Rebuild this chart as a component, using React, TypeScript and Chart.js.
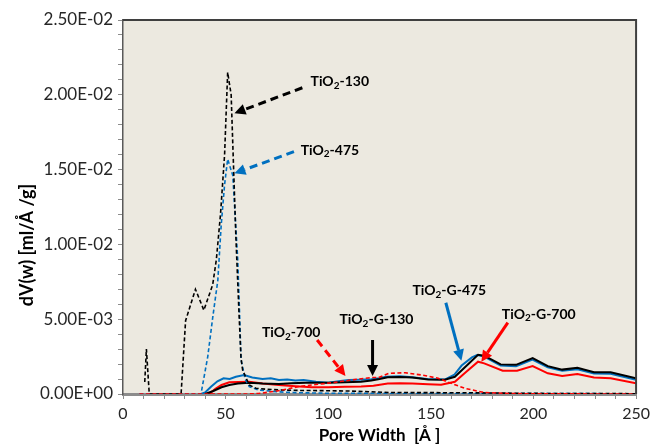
import React, { useEffect, useRef } from 'react';
import { Chart, registerables } from 'chart.js';
Chart.register(...registerables);

const FONT = 'Lato, "Open Sans", "DejaVu Sans", sans-serif';
const BG = '#ECE9E0';
const BLACK = '#000000';
const BLUE = '#0070C0';
const RED = '#FF0000';

// TiO2-130 (black dashed)
const t130X = [10.6, 11.4, 12.8, 28.3, 30.5, 35.3, 39.4, 43.7, 45.5, 47.5, 49.5, 51, 52.7, 55, 56.4, 57.5, 58.3, 61.5, 64.8, 70, 76, 85, 100, 110, 121, 130, 150, 170, 200, 250];
const t130Y = [0.0008, 0.0030, 0, 0, 0.0049, 0.0070, 0.0056, 0.0073, 0.0090, 0.0120, 0.0160, 0.0215, 0.0200, 0.0105, 0.0058, 0.0024, 0.0016, 0.0006, 0.00038, 0.00032, 0.00027, 0.00024, 0.00022, 0.0002, 0.00015, 0.0001, 0.00009, 0.00008, 0.00004, 0.00002];

// TiO2-475 (blue dashed)
const t475X = [8, 38, 41.3, 43.8, 46.2, 47.8, 49.5, 51, 53.5, 55.9, 56.7, 57.5, 59.5, 61.5, 66, 75, 84, 100, 150, 250];
const t475Y = [0, 0, 0.0025, 0.0052, 0.0076, 0.0112, 0.0140, 0.0157, 0.0146, 0.0090, 0.0058, 0.0023, 0.0010, 0.0005, 0.00027, 0.00015, 0.00009, 0.00005, 0.00003, 0.00002];

// TiO2-700 (red dashed)
const t700X = [8, 60, 66, 75, 85.8, 95, 102, 106.6, 115, 121, 124.5, 129.4, 137.5, 145.5, 153.6, 160, 166.5, 176, 189, 200, 250];
const t700Y = [0, 0, 0.00003, 0.0002, 0.0005, 0.00065, 0.00075, 0.00085, 0.001, 0.0011, 0.0011, 0.00138, 0.00142, 0.00127, 0.00105, 0.00071, 0.00038, 0.0001, 0.00003, 0.00001, 0];

// TiO2-G-130 (black solid)
const g130X = [40, 44, 48, 51.8, 56, 61.5, 68, 76, 82, 89, 100, 108, 116, 121, 125, 129, 135, 141, 148.7, 156.8, 161.7, 173, 176, 184, 191.5, 199.6, 207, 214, 221.4, 229.5, 237.6, 250];
const g130Y = [0, 0.0002, 0.00045, 0.0006, 0.0007, 0.00076, 0.0007, 0.00067, 0.00072, 0.00076, 0.00076, 0.00078, 0.00082, 0.0009, 0.001, 0.00112, 0.00113, 0.0011, 0.00097, 0.00095, 0.00115, 0.00262, 0.00256, 0.00198, 0.00195, 0.0024, 0.00186, 0.00163, 0.00175, 0.00145, 0.00145, 0.00105];

// TiO2-G-475 (blue solid)
const g475X = [38, 40, 43, 46, 49, 52, 55, 59, 63, 68, 72, 76, 80, 84, 88, 94, 100, 105, 110, 115, 121, 125, 128, 135, 141, 148, 157, 161.5, 165, 170, 172.5, 176, 184, 191.5, 199.5, 207, 214, 221.4, 229.5, 237.6, 250];
const g475Y = [0, 0.0001, 0.0005, 0.00085, 0.00105, 0.001, 0.00115, 0.00127, 0.0011, 0.001, 0.00105, 0.00094, 0.00097, 0.0009, 0.00093, 0.00082, 0.00076, 0.00085, 0.00094, 0.00095, 0.00098, 0.00105, 0.00116, 0.00118, 0.00112, 0.001, 0.00097, 0.0013, 0.0019, 0.00245, 0.0026, 0.0025, 0.0019, 0.00185, 0.0023, 0.00178, 0.00155, 0.00166, 0.00137, 0.00136, 0.00095];

// TiO2-G-700 (red solid)
const g700X = [42, 45, 48, 51.8, 56, 61.5, 68, 76, 84, 92, 100, 108, 116, 122, 129, 135, 141, 148.7, 155, 161.7, 167, 173, 176, 185, 192, 199.6, 207, 214, 221.4, 229.5, 237.6, 250];
const g700Y = [0, 0.00035, 0.0006, 0.00078, 0.0008, 0.00082, 0.0007, 0.0006, 0.00052, 0.00045, 0.00045, 0.00048, 0.0005, 0.00055, 0.0007, 0.00072, 0.0007, 0.00066, 0.00062, 0.00082, 0.00145, 0.00216, 0.00205, 0.00156, 0.00156, 0.00187, 0.00138, 0.0012, 0.00134, 0.0011, 0.00105, 0.00071];

// Annotations (in data coordinates)
const annSuffix = ['-130', '-475', '-700', '-G-130', '-G-475', '-G-700'];
const annTextX = [91.4, 86.6, 67.7, 105.5, 141, 184.6];
const annTextY = [0.02088, 0.01631, 0.0041, 0.00499, 0.00689, 0.00533];
const arrFromX = [87.4, 83.3, 94.6, 121.6, 157.3, 187.5];
const arrFromY = [0.02047, 0.0162, 0.00361, 0.00361, 0.0061, 0.00477];
const arrToX = [54.3, 54.3, 108.4, 121.6, 164.9, 174.6];
const arrToY = [0.01876, 0.01475, 0.0012, 0.0012, 0.00223, 0.00216];
const annColor = [BLACK, BLUE, RED, BLACK, BLUE, RED];
const annDashed = [true, true, true, false, false, false];

const xTitle = 'Pore Width  [Å ]';
const yTitle = 'dV(w) [ml/Å /g]';

function pts(xs: number[], ys: number[]) {
  return xs.map((x, i) => ({ x, y: ys[i] }));
}

function sci(v: number) {
  if (Math.abs(v) < 1e-12) return '0.00E+00';
  const e = Math.floor(Math.log10(Math.abs(v)) + 1e-9);
  const m = v / Math.pow(10, e);
  return m.toFixed(2) + 'E' + (e < 0 ? '-' : '+') + String(Math.abs(e)).padStart(2, '0');
}

function isMult(v: number, step: number) {
  const r = v / step;
  return Math.abs(r - Math.round(r)) < 1e-6;
}

export default function App() {
  const ref = useRef<HTMLCanvasElement>(null);
  useEffect(() => {
    if (!ref.current) return;
    const decor = {
      id: 'decor',
      beforeDraw(chart: any) {
        const { ctx, chartArea: a } = chart;
        ctx.save();
        ctx.fillStyle = BG;
        ctx.fillRect(a.left, a.top, a.right - a.left, a.bottom - a.top);
        ctx.restore();
      },
      afterDraw(chart: any) {
        const { ctx, chartArea: a } = chart;
        const xs = chart.scales.x;
        const ys = chart.scales.y;
        ctx.save();
        // frame top/right
        ctx.strokeStyle = '#3f3f3f';
        ctx.lineWidth = 2;
        ctx.beginPath();
        ctx.moveTo(a.left, a.top);
        ctx.lineTo(a.right, a.top);
        ctx.lineTo(a.right, a.bottom);
        ctx.stroke();

        // arrows
        for (let i = 0; i < annSuffix.length; i++) {
          const x1 = xs.getPixelForValue(arrFromX[i]);
          const y1 = ys.getPixelForValue(arrFromY[i]);
          const x2 = xs.getPixelForValue(arrToX[i]);
          const y2 = ys.getPixelForValue(arrToY[i]);
          const ang = Math.atan2(y2 - y1, x2 - x1);
          const head = 11;
          const hw = 5.5;
          const bx = x2 - head * Math.cos(ang);
          const by = y2 - head * Math.sin(ang);
          ctx.strokeStyle = annColor[i];
          ctx.fillStyle = annColor[i];
          ctx.lineWidth = 3;
          ctx.setLineDash(annDashed[i] ? [8, 5] : []);
          ctx.beginPath();
          ctx.moveTo(x1, y1);
          ctx.lineTo(bx, by);
          ctx.stroke();
          ctx.setLineDash([]);
          ctx.beginPath();
          ctx.moveTo(x2, y2);
          ctx.lineTo(bx + hw * Math.sin(ang), by - hw * Math.cos(ang));
          ctx.lineTo(bx - hw * Math.sin(ang), by + hw * Math.cos(ang));
          ctx.closePath();
          ctx.fill();

          // label
          const tx = xs.getPixelForValue(annTextX[i]);
          const ty = ys.getPixelForValue(annTextY[i]);
          ctx.fillStyle = '#000';
          ctx.textBaseline = 'middle';
          ctx.textAlign = 'left';
          ctx.font = `bold 14px ${FONT}`;
          ctx.fillText('TiO', tx, ty);
          let cx = tx + ctx.measureText('TiO').width;
          ctx.font = `bold 10px ${FONT}`;
          ctx.fillText('2', cx, ty + 4);
          cx += ctx.measureText('2').width;
          ctx.font = `bold 14px ${FONT}`;
          ctx.fillText(annSuffix[i], cx, ty);
        }

        // axis titles
        ctx.fillStyle = '#000';
        ctx.font = `bold 17px ${FONT}`;
        ctx.textAlign = 'center';
        ctx.textBaseline = 'middle';
        ctx.fillText(xTitle, (a.left + a.right) / 2, 436);
        ctx.font = `bold 18px ${FONT}`;
        ctx.translate(27, 245);
        ctx.rotate(-Math.PI / 2);
        ctx.fillText(yTitle, 0, 0);
        ctx.restore();
      },
    };

    const mk = (label: string, xs: number[], ys: number[], color: string, dashed: boolean, width: number) => ({
      label,
      data: pts(xs, ys),
      borderColor: color,
      backgroundColor: color,
      borderWidth: width,
      borderDash: dashed ? [4, 2.5] : [],
      pointRadius: 0,
      tension: 0,
      fill: false,
    });

    const chart = new Chart(ref.current, {
      type: 'line',
      data: {
        datasets: [
          mk('TiO2-700', t700X, t700Y, RED, true, 1.6),
          mk('TiO2-130', t130X, t130Y, BLACK, true, 1.6),
          mk('TiO2-475', t475X, t475Y, BLUE, true, 1.6),
          mk('TiO2-G-130', g130X, g130Y, BLACK, false, 2),
          mk('TiO2-G-475', g475X, g475Y, BLUE, false, 2),
          mk('TiO2-G-700', g700X, g700Y, RED, false, 2),
        ] as any,
      },
      options: {
        responsive: false,
        animation: false,
        layout: { padding: { top: 20, right: 16, left: 0, bottom: 0 } },
        plugins: { legend: { display: false }, tooltip: { enabled: false } },
        scales: {
          x: {
            type: 'linear',
            min: 0,
            max: 250,
            afterFit: (s: any) => { s.height = 51; },
            grid: { drawOnChartArea: false, drawTicks: true, tickLength: 5, color: '#8c8c8c' },
            border: { display: true, color: '#8c8c8c', width: 3 },
            ticks: {
              stepSize: 10,
              autoSkip: false,
              maxRotation: 0,
              padding: 5,
              color: '#262626',
              font: { family: FONT, size: 16 },
              callback: (v: any) => (isMult(Number(v), 50) ? String(v) : ''),
            },
          },
          y: {
            type: 'linear',
            min: 0,
            max: 0.025,
            afterFit: (s: any) => { s.width = 123; },
            grid: { drawOnChartArea: false, drawTicks: true, tickLength: 5, color: '#8c8c8c' },
            border: { display: true, color: '#595959', width: 1.5 },
            ticks: {
              stepSize: 0.001,
              autoSkip: false,
              padding: 5,
              color: '#262626',
              font: { family: FONT, size: 17 },
              callback: (v: any) => (isMult(Number(v), 0.005) ? sci(Number(v)) : ''),
            },
          },
        },
      } as any,
      plugins: [decor],
    });
    return () => chart.destroy();
  }, []);

  return (
    <div style={{ position: 'fixed', left: 0, top: 0, width: 655, height: 445, background: '#fff' }}>
      <canvas ref={ref} width={655} height={445} style={{ display: 'block' }} />
    </div>
  );
}
